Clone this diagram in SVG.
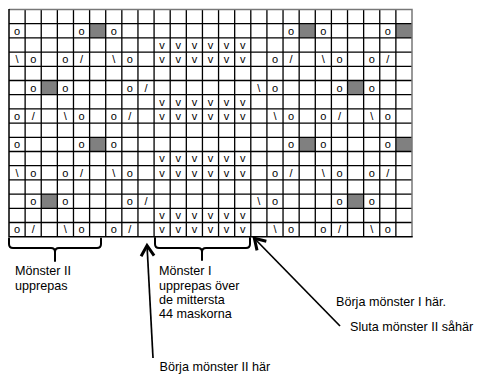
<svg xmlns="http://www.w3.org/2000/svg" xmlns:xlink="http://www.w3.org/1999/xlink" width="477" height="378" viewBox="0 0 477 378">
<style>
.s{font-family:"Liberation Sans",Arial,sans-serif;font-size:11px;text-anchor:middle;fill:#000}
.t{font-family:"Liberation Sans",Arial,sans-serif;font-size:12.6px;fill:#000}
.g{fill:#808080}
.grid{stroke:#000;stroke-width:1.3;fill:none}
.br{stroke:#000;stroke-width:2;fill:none;stroke-linecap:round;stroke-linejoin:round}
.ar{stroke:#000;stroke-width:1.7;fill:none}
</style>
<defs>
<marker id="ah" markerUnits="userSpaceOnUse" markerWidth="20" markerHeight="20" viewBox="-2 -10 16 20" refX="0" refY="0" orient="auto" overflow="visible">
<path d="M11,-6.5 L0.5,0 L11,6.5" fill="none" stroke="#000" stroke-width="3" stroke-linejoin="miter"/>
</marker>
<g id="half">
<rect class="g" x="89.6" y="23.7" width="16.12" height="14.2"/>
<rect class="g" x="299.16" y="23.7" width="16.12" height="14.2"/>
<rect class="g" x="395.88" y="23.7" width="16.12" height="14.2"/>
<rect class="g" x="41.24" y="80.5" width="16.12" height="14.2"/>
<rect class="g" x="347.52" y="80.5" width="16.12" height="14.2"/>
<g class="s">
<text x="17.1" y="34.7">o</text><text x="81.5" y="34.7">o</text><text x="113.8" y="34.7">o</text><text x="291.1" y="34.7">o</text><text x="323.3" y="34.7">o</text><text x="387.8" y="34.7">o</text>
<text x="162.1" y="48.9">v</text><text x="178.3" y="48.9">v</text><text x="194.4" y="48.9">v</text><text x="210.5" y="48.9">v</text><text x="226.6" y="48.9">v</text><text x="242.7" y="48.9">v</text>
<text x="17.1" y="63.1">\</text><text x="33.2" y="63.1">o</text><text x="65.4" y="63.1">o</text><text x="81.5" y="63.1">/</text><text x="113.8" y="63.1">\</text><text x="129.9" y="63.1">o</text>
<text x="162.1" y="63.1">v</text><text x="178.3" y="63.1">v</text><text x="194.4" y="63.1">v</text><text x="210.5" y="63.1">v</text><text x="226.6" y="63.1">v</text><text x="242.7" y="63.1">v</text>
<text x="275" y="63.1">o</text><text x="291.1" y="63.1">/</text><text x="323.3" y="63.1">\</text><text x="339.5" y="63.1">o</text><text x="371.7" y="63.1">o</text><text x="387.8" y="63.1">/</text>
<text x="33.2" y="91.5">o</text><text x="65.4" y="91.5">o</text><text x="129.9" y="91.5">o</text><text x="146" y="91.5">/</text><text x="258.9" y="91.5">\</text><text x="275" y="91.5">o</text><text x="339.5" y="91.5">o</text><text x="371.7" y="91.5">o</text>
<text x="162.1" y="105.7">v</text><text x="178.3" y="105.7">v</text><text x="194.4" y="105.7">v</text><text x="210.5" y="105.7">v</text><text x="226.6" y="105.7">v</text><text x="242.7" y="105.7">v</text>
<text x="17.1" y="119.9">o</text><text x="33.2" y="119.9">/</text><text x="65.4" y="119.9">\</text><text x="81.5" y="119.9">o</text><text x="113.8" y="119.9">o</text><text x="129.9" y="119.9">/</text>
<text x="162.1" y="119.9">v</text><text x="178.3" y="119.9">v</text><text x="194.4" y="119.9">v</text><text x="210.5" y="119.9">v</text><text x="226.6" y="119.9">v</text><text x="242.7" y="119.9">v</text>
<text x="275" y="119.9">\</text><text x="291.1" y="119.9">o</text><text x="323.3" y="119.9">o</text><text x="339.5" y="119.9">/</text><text x="371.7" y="119.9">\</text><text x="387.8" y="119.9">o</text>
</g>
</g>
</defs>
<rect width="477" height="378" fill="#fff"/>
<g id="chart">
<use xlink:href="#half"/>
<use xlink:href="#half" transform="translate(0,113.6)"/>
<path class="grid" d="M25.12,9.5V236.7M41.24,9.5V236.7M57.36,9.5V236.7M73.48,9.5V236.7M89.6,9.5V236.7M105.72,9.5V236.7M121.84,9.5V236.7M137.96,9.5V236.7M154.08,9.5V236.7M170.2,9.5V236.7M186.32,9.5V236.7M202.44,9.5V236.7M218.56,9.5V236.7M234.68,9.5V236.7M250.8,9.5V236.7M266.92,9.5V236.7M283.04,9.5V236.7M299.16,9.5V236.7M315.28,9.5V236.7M331.4,9.5V236.7M347.52,9.5V236.7M363.64,9.5V236.7M379.76,9.5V236.7M395.88,9.5V236.7"/>
<path class="grid" d="M9,23.7H412M9,37.9H412M9,52.1H412M9,66.3H412M9,80.5H412M9,94.7H412M9,108.9H412M9,123.1H412M9,137.3H412M9,151.5H412M9,165.7H412M9,179.9H412M9,194.1H412M9,208.3H412M9,222.5H412"/>
<path d="M9,9.5H412V236.7" stroke="#777" stroke-width="1.5" fill="none"/>
<path d="M9,9V236.7H412.7" stroke="#000" stroke-width="1.5" fill="none"/>
</g>
<g id="brace-m2">
<path class="br" d="M9,238.5V244Q9,248 13,248H51Q55,248 55,252V261M55,252Q55,248 59,248H97Q101,248 101,244V238.5"/>
<text class="t" x="15" y="275">Mönster II</text>
<text class="t" x="15" y="290">upprepas</text>
</g>
<g id="brace-m1">
<path class="br" d="M155,238V244Q155,248 159,248H198Q202,248 202,252V260M202,252Q202,248 206,248H246Q250,248 250,244V238"/>
<text class="t" x="159" y="275">Mönster I</text>
<text class="t" x="159" y="290">upprepas över</text>
<text class="t" x="159" y="304">de mittersta</text>
<text class="t" x="159" y="318">44 maskorna</text>
</g>
<g id="label-borja1"><text class="t" x="336" y="306">Börja mönster I här.</text></g>
<g id="label-sluta"><text class="t" x="350" y="331">Sluta mönster II såhär</text></g>
<g id="label-borja2"><text class="t" x="159.5" y="371">Börja mönster II här</text></g>
<g id="connectors">
<path class="ar" d="M147,245L153,358" marker-start="url(#ah)"/>
<path class="ar" d="M254,238L340,326" marker-start="url(#ah)"/>
</g>
</svg>
